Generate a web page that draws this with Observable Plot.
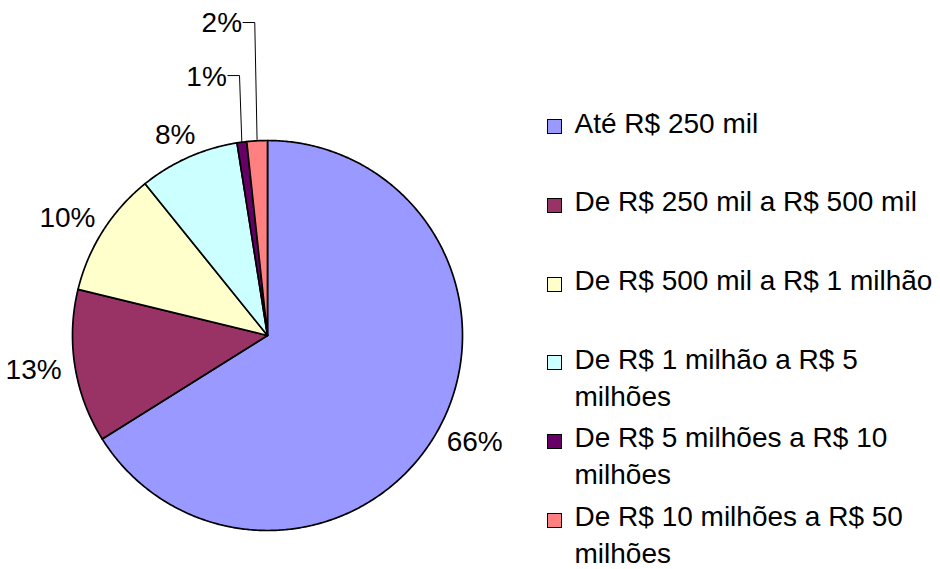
<!DOCTYPE html>
<html><head><meta charset="utf-8">
<script src="https://cdn.jsdelivr.net/npm/d3@7"></script>
<script src="https://cdn.jsdelivr.net/npm/@observablehq/plot@0.6"></script>
<style>
body{margin:0;background:#fff;font-family:"Liberation Sans",Arial,Helvetica,sans-serif;}
#wrap{position:relative;width:940px;height:569px;}
#legend{position:absolute;left:0;top:0;width:940px;height:569px;pointer-events:none;}
.sw{position:absolute;left:547px;width:13px;height:13px;border:1.5px solid #000;}
.ln{position:absolute;left:574.5px;font-size:28px;line-height:26px;color:#000;white-space:nowrap;}
</style></head><body><div id="wrap"></div>
<script>
const categories = [
  "Até R$ 250 mil",
  "De R$ 250 mil a R$ 500 mil",
  "De R$ 500 mil a R$ 1 milhão",
  "De R$ 1 milhão a R$ 5 milhões",
  "De R$ 5 milhões a R$ 10 milhões",
  "De R$ 10 milhões a R$ 50 milhões"
];
const values = [66.1, 12.7, 10.4, 8.3, 0.8, 1.7];
const colors = ["#9999FF", "#993366", "#FFFFCC", "#CCFFFF", "#660066", "#FF8080"];

const R = 195; // pie radius in pixels (x/y ranges below span 2R)
const total = d3.sum(values);
let cum = 0;
const slices = values.map((v, i) => {
  const a0 = cum / total * 2 * Math.PI; cum += v;
  const a1 = cum / total * 2 * Math.PI;
  return {i, cat: categories[i], v, a0, a1, mid: (a0 + a1) / 2, share: v / total,
          pct: Math.round(v / total * 100) + "%"};
});
const pts = slices.flatMap(s => {
  const n = Math.max(2, Math.ceil((s.a1 - s.a0) / (Math.PI / 360)));
  const arr = [{key: s.cat, x: 0, y: 0}];
  for (let k = 0; k <= n; k++) {
    const a = s.a0 + (s.a1 - s.a0) * k / n;
    arr.push({key: s.cat, x: Math.sin(a), y: Math.cos(a)});
  }
  return arr;
});
// outside labels: offset from the arc by a gap plus half the label box in the radial direction
const big = slices.filter(s => s.share >= 0.03).map(s => {
  const dx = Math.sin(s.mid), dy = Math.cos(s.mid);
  const w = s.pct.length * 18.6, h = 20, gap = 14;
  return {...s, x: (dx * (R + gap) + dx * w / 2) / R, y: (dy * (R + gap) + dy * h / 2) / R};
});
const small = slices.filter(s => s.share < 0.03).map((s, k) => ({...s, k, ax: Math.sin(s.mid), ay: Math.cos(s.mid), level: 1.333 + 0.272 * k}));
const leaders = small.flatMap(s => [
  {key: s.cat, x: s.ax, y: s.ay},
  {key: s.cat, x: s.ax - 0.012, y: s.level},
  {key: s.cat, x: s.ax - 0.072, y: s.level}
]);
const smallLabels = small.map(s => ({...s, x: s.ax - 0.072, y: s.level}));

const font = "Liberation Sans, Arial, Helvetica, sans-serif";
const chart = Plot.plot({
  width: 940, height: 569,
  marginTop: 0, marginRight: 0, marginBottom: 0, marginLeft: 0,
  x: {domain: [-1, 1], range: [267 - R, 267 + R], axis: null},
  y: {domain: [-1, 1], range: [335 + R, 335 - R], axis: null},
  color: {domain: categories, range: colors},
  style: {fontFamily: font, background: "#fff"},
  marks: [
    Plot.line(pts, {x: "x", y: "y", z: "key", fill: "key", stroke: "#000", strokeWidth: 1.7, curve: "linear-closed", strokeLinejoin: "round"}),
    Plot.line(leaders, {x: "x", y: "y", z: "key", stroke: "#000", strokeWidth: 1}),
    Plot.text(big, {x: "x", y: "y", text: "pct", fontSize: 28, textAnchor: "middle", lineAnchor: "middle", fill: "#000"}),
    Plot.text(smallLabels, {x: "x", y: "y", text: "pct", fontSize: 28, textAnchor: "end", lineAnchor: "middle", dx: -1, dy: 1, fill: "#000"})
  ]
});
const wrap = document.getElementById("wrap");
wrap.appendChild(chart);

// legend on the right (manual wrapping to the available width)
const ctx = document.createElement("canvas").getContext("2d");
ctx.font = "28px 'Liberation Sans', Arial, sans-serif";
const maxW = 365;
function wrapText(t) {
  const words = t.split(" "); const lines = []; let cur = "";
  for (const w of words) {
    const test = cur ? cur + " " + w : w;
    if (cur && ctx.measureText(test).width > maxW) { lines.push(cur); cur = w; } else cur = test;
  }
  if (cur) lines.push(cur);
  return lines;
}
const legend = document.createElement("div");
legend.id = "legend";
categories.forEach((c, i) => {
  const base = 133.3 + 78.7 * i;
  const sw = document.createElement("div");
  sw.className = "sw"; sw.style.background = colors[i]; sw.style.top = (base - 14) + "px";
  legend.appendChild(sw);
  wrapText(c).forEach((line, j) => {
    const d = document.createElement("div");
    d.className = "ln"; d.textContent = line;
    d.style.top = (base + 37 * j - 22.7) + "px";
    legend.appendChild(d);
  });
});
wrap.appendChild(legend);
</script></body></html>
